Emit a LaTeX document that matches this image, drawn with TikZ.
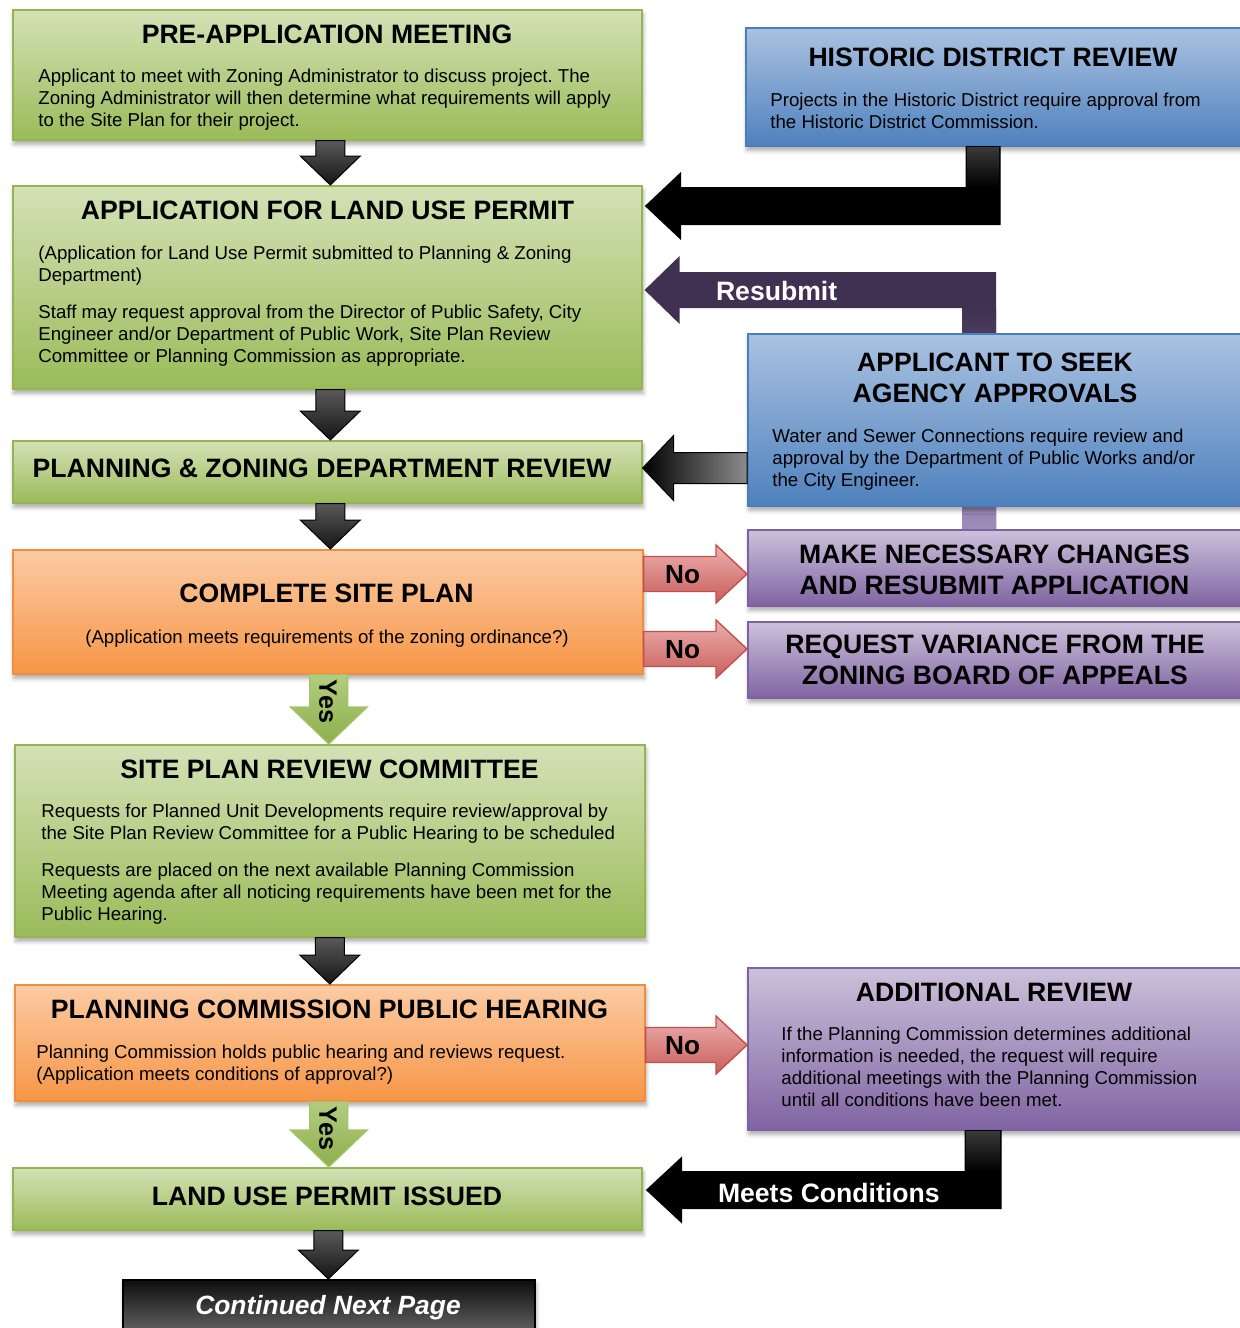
\documentclass[tikz,border=0pt]{standalone}
\usepackage{fontspec}
\setmainfont{Liberation Sans}
\usetikzlibrary{calc,shadows.blur}
\frenchspacing

\definecolor{grnT}{HTML}{D3E2B6}
\definecolor{grnB}{HTML}{9BBB59}
\definecolor{grnL}{HTML}{94B652}
\definecolor{orgT}{HTML}{FBCBA4}
\definecolor{orgB}{HTML}{F79646}
\definecolor{orgL}{HTML}{F28D3E}
\definecolor{bluT}{HTML}{AAC2E1}
\definecolor{bluB}{HTML}{4F81BD}
\definecolor{bluL}{HTML}{4A7EBB}
\definecolor{purT}{HTML}{CCC1DB}
\definecolor{purB}{HTML}{8064A2}
\definecolor{purL}{HTML}{7D61A0}
\definecolor{redT}{HTML}{EBB0AE}
\definecolor{redB}{HTML}{C95E5A}
\definecolor{redL}{HTML}{C0504D}
\definecolor{yesT}{HTML}{B2CD80}
\definecolor{yesB}{HTML}{8DAF4C}
\definecolor{yesL}{HTML}{A6C36C}
\definecolor{resub}{HTML}{403152}
\definecolor{resubLt}{HTML}{A08CBB}

\pgfdeclarelayer{back}
\pgfsetlayers{back,main}

\newcommand\leftlines[1]{\begin{tabular}[t]{@{}l@{}}#1\end{tabular}}
\newcommand\ctrlines[1]{\begin{tabular}[t]{@{}c@{}}#1\end{tabular}}

% straight block arrows: style, start, tip, shaft half width, head half width, head length
\newcommand\dnarrow[6]{\path[#1] let \p1=(#2), \p2=(#3) in
  (\x1-#4,\y1) -- (\x1+#4,\y1) -- (\x1+#4,\y2+#6) -- (\x1+#5,\y2+#6) -- (\x1,\y2)
  -- (\x1-#5,\y2+#6) -- (\x1-#4,\y2+#6) -- cycle;}
\newcommand\rtarrow[6]{\path[#1] let \p1=(#2), \p2=(#3) in
  (\x1,\y1+#4) -- (\x2-#6,\y1+#4) -- (\x2-#6,\y1+#5) -- (\x2,\y1)
  -- (\x2-#6,\y1-#5) -- (\x2-#6,\y1-#4) -- (\x1,\y1-#4) -- cycle;}
\newcommand\lfarrow[6]{\path[#1] let \p1=(#2), \p2=(#3) in
  (\x1,\y1+#4) -- (\x2+#6,\y1+#4) -- (\x2+#6,\y1+#5) -- (\x2,\y1)
  -- (\x2+#6,\y1-#5) -- (\x2+#6,\y1-#4) -- (\x1,\y1-#4) -- cycle;}

\tikzset{
  sz/.style 2 args={minimum width=#1*0.5pt, minimum height=#2*0.5pt},
  box/.style={rectangle, anchor=north west, inner sep=0pt, line width=0.8pt,
    blur shadow={shadow xshift=0.6pt, shadow yshift=-2.2pt,
      shadow blur radius=2.2pt, shadow opacity=35}},
  greenbox/.style={box, draw=grnL, top color=grnT, bottom color=grnB},
  orangebox/.style={box, draw=orgL, top color=orgT, bottom color=orgB},
  bluebox/.style={box, draw=bluL, top color=bluT, bottom color=bluB},
  purplebox/.style={box, draw=purL, top color=purT, bottom color=purB},
  darkbox/.style={box, draw=black, top color=black!95, bottom color=black!50},
  ttl/.style={anchor=base, inner sep=0pt, font=\fontsize{13.3}{15.5}\selectfont\bfseries},
  txt/.style={anchor=base west, inner sep=0pt, font=\fontsize{9.33}{11}\selectfont},
  lbl/.style={anchor=base, inner sep=0pt, font=\fontsize{13.1}{15}\selectfont\bfseries},
  wlbl/.style={anchor=base west, inner sep=0pt, text=white, font=\bfseries},
  darkarrow/.style={draw=black, line width=0.5pt, top color=black!65, bottom color=black!92},
  yesarrow/.style={draw=yesL, line width=0.6pt, top color=yesT, bottom color=yesB},
  noarrow/.style={draw=redL, line width=0.7pt, top color=redT, bottom color=redB},
}

\begin{document}
\begin{tikzpicture}[x=0.5pt, y=-0.5pt]
\useasboundingbox (0,0) rectangle (1240,1328);
\clip (0,0) rectangle (1240,1328);

% ---------- main column ----------
\node[greenbox, sz={629}{130}] (b1) at (12,9) {};
\node[ttl] at ($(b1.north west)+(315,34.5)$) {PRE-APPLICATION MEETING};
\node[txt] at ($(b1.north west)+(26,73)$) {\leftlines{Applicant to meet with Zoning Administrator to discuss project. The\\Zoning Administrator will then determine what requirements will apply\\to the Site Plan for their project.}};

\node[greenbox, sz={629}{203}] (b2) at (12,185) {};
\node[ttl] at ($(b2.north west)+(315.5,34.5)$) {APPLICATION FOR LAND USE PERMIT};
\node[txt] at ($(b2.north west)+(26,74)$) {\leftlines{(Application for Land Use Permit submitted to Planning \& Zoning\\Department)}};
\node[txt] at ($(b2.north west)+(26,133)$) {\leftlines{Staff may request approval from the Director of Public Safety, City\\Engineer and/or Department of Public Work, Site Plan Review\\Committee or Planning Commission as appropriate.}};

\node[greenbox, sz={629}{62}] (b3) at (12,440) {};
\node[ttl] at ($(b3.north west)+(310,37.5)$) {PLANNING \& ZONING DEPARTMENT REVIEW};

\node[orangebox, sz={630}{124}] (b4) at (12,549) {};
\node[ttl] at ($(b4.north west)+(314.5,53.5)$) {COMPLETE SITE PLAN};
\node[txt, anchor=base] at ($(b4.north west)+(315,94)$) {(Application meets requirements of the zoning ordinance?)};

\node[greenbox, sz={630}{192}] (b5) at (14,744) {};
\node[ttl] at ($(b5.north west)+(315.5,34.5)$) {SITE PLAN REVIEW COMMITTEE};
\node[txt] at ($(b5.north west)+(27,73)$) {\leftlines{Requests for Planned Unit Developments require review/approval by\\the Site Plan Review Committee for a Public Hearing to be scheduled}};
\node[txt] at ($(b5.north west)+(27,132)$) {\leftlines{Requests are placed on the next available Planning Commission\\Meeting agenda after all noticing requirements have been met for the\\Public Hearing.}};

\node[orangebox, sz={630}{116}] (b6) at (14,984) {};
\node[ttl] at ($(b6.north west)+(315.5,34.5)$) {PLANNING COMMISSION PUBLIC HEARING};
\node[txt] at ($(b6.north west)+(22,74)$) {\leftlines{Planning Commission holds public hearing and reviews request.\\(Application meets conditions of approval?)}};

\node[greenbox, sz={629}{62}] (b7) at (12,1167) {};
\node[ttl] at ($(b7.north west)+(315,38.5)$) {LAND USE PERMIT ISSUED};

\node[darkbox, sz={412}{70}] (b8) at (122,1279) {};
\node[ttl, text=white, font=\fontsize{13.2}{15}\selectfont\bfseries\itshape] at ($(b8.north west)+(206,35.5)$) {Continued Next Page};

% ---------- right column ----------
\node[bluebox, sz={502}{118}] (hist) at (745,27) {};
\node[ttl] at ($(hist.north west)+(248,39.5)$) {HISTORIC DISTRICT REVIEW};
\node[txt] at ($(hist.north west)+(25,79)$) {\leftlines{Projects in the Historic District require approval from\\the Historic District Commission.}};

\node[bluebox, sz={500}{172}] (agency) at (747,333) {};
\node[ttl] at ($(agency.north west)+(248,38.5)$) {\ctrlines{APPLICANT TO SEEK\\AGENCY APPROVALS}};
\node[txt] at ($(agency.north west)+(25,109)$) {\leftlines{Water and Sewer Connections require review and\\approval by the Department of Public Works and/or\\the City Engineer.}};

\node[purplebox, sz={500}{76}] (make) at (747,529) {};
\node[ttl] at ($(make.north west)+(247.5,34.5)$) {\ctrlines{MAKE NECESSARY CHANGES\\AND RESUBMIT APPLICATION}};

\node[purplebox, sz={500}{76}] (var) at (747,621) {};
\node[ttl] at ($(var.north west)+(248,32.5)$) {\ctrlines{REQUEST VARIANCE FROM THE\\ZONING BOARD OF APPEALS}};

\node[purplebox, sz={500}{162}] (addl) at (747,967) {};
\node[ttl] at ($(addl.north west)+(247,34.5)$) {ADDITIONAL REVIEW};
\node[txt] at ($(addl.north west)+(34,73)$) {\leftlines{If the Planning Commission determines additional\\information is needed, the request will require\\additional meetings with the Planning Commission\\until all conditions have been met.}};

% ---------- resubmit connector (runs behind the agency box) ----------
\begin{pgfonlayer}{back}
\fill[resub] let \p1=($(make.north west)+(215,0)$), \p2=($(b2.north east)+(2,105)$) in
  (\x1,\y1) -- (\x1+17pt,\y1) -- (\x1+17pt,\y2+9pt) -- (\x2+17.5pt,\y2+9pt)
  -- (\x2+17.5pt,\y2+17pt) -- (\x2,\y2) -- (\x2+17.5pt,\y2-17pt)
  -- (\x2+17.5pt,\y2-9pt) -- (\x1,\y2-9pt) -- cycle;
\shade[top color=resub, bottom color=resubLt] let \p1=($(make.north west)+(215,0)$), \p2=($(b2.north east)+(2,105)$) in
  (\x1,\y1) rectangle (\x1+17pt,\y2-9pt);
\end{pgfonlayer}
\node[wlbl, font=\fontsize{13.3}{15}\selectfont\bfseries] at ($(b2.north east)+(73,115)$) {Resubmit};

% ---------- historic district connector ----------
\path[fill=black, draw=black, line width=0.5pt] let \p1=($(hist.south west)+(221,0)$), \p2=($(b2.north east)+(3,21)$) in
  (\x1,\y1) -- (\x1+17pt,\y1) -- (\x1+17pt,\y2-9.25pt) -- (\x2+17.5pt,\y2-9.25pt)
  -- (\x2+17.5pt,\y2-16.5pt) -- (\x2,\y2) -- (\x2+17.5pt,\y2+16.5pt)
  -- (\x2+17.5pt,\y2+9.25pt) -- (\x1,\y2+9.25pt) -- cycle;
\shade[top color=black!78, bottom color=black] let \p1=($(hist.south west)+(221,0)$), \p2=($(b2.north east)+(3,21)$) in
  (\x1+0.4pt,\y1-0.4pt) rectangle (\x1+16.6pt,\y2+9.25pt);

% ---------- agency to review connector ----------
\lfarrow{draw=black, line width=0.5pt, left color=black, right color=black!45}{$(agency.north west)+(0,135)$}{b3.east}{7.75pt}{16.25pt}{15.5pt}

% ---------- additional review connector ----------
\path[fill=black, draw=black, line width=0.5pt] let \p1=($(addl.south west)+(218,0)$), \p2=($(b7.north east)+(4,23)$) in
  (\x1,\y1) -- (\x1+18pt,\y1) -- (\x1+18pt,\y2-9.25pt) -- (\x2+17.5pt,\y2-9.25pt)
  -- (\x2+17.5pt,\y2-16.25pt) -- (\x2,\y2) -- (\x2+17.5pt,\y2+16.25pt)
  -- (\x2+17.5pt,\y2+9.25pt) -- (\x1,\y2+9.25pt) -- cycle;
\shade[top color=black!78, bottom color=black] let \p1=($(addl.south west)+(218,0)$), \p2=($(b7.north east)+(4,23)$) in
  (\x1+0.4pt,\y1-0.4pt) rectangle (\x1+17.6pt,\y2+9.25pt);
\node[wlbl, font=\fontsize{13.3}{15}\selectfont\bfseries] at ($(b7.north east)+(75,35)$) {Meets Conditions};

% ---------- downward flow ----------
\dnarrow{darkarrow}{$(b1.south)+(3,0)$}{b2.north}{7.25pt}{15pt}{14.5pt}
\dnarrow{darkarrow}{$(b2.south)+(3,0)$}{b3.north}{7.25pt}{15pt}{14.5pt}
\dnarrow{darkarrow}{$(b3.south)+(3,0)$}{b4.north}{7.25pt}{15pt}{14.5pt}
\dnarrow{darkarrow}{b5.south}{b6.north}{7.25pt}{15pt}{14.5pt}
\dnarrow{darkarrow}{$(b7.south)+(1,0)$}{b8.north}{7.25pt}{15pt}{14.5pt}

\dnarrow{yesarrow}{$(b4.south)+(1,0)$}{b5.north}{9.5pt}{19.25pt}{18.5pt}
\node[lbl, anchor=center, rotate=-90, font=\fontsize{12.6}{14}\selectfont\bfseries] at ($(b4.south)+(0,27)$) {Yes};
\dnarrow{yesarrow}{$(b6.south)+(-1,0)$}{b7.north}{9.5pt}{19.25pt}{18.5pt}
\node[lbl, anchor=center, rotate=-90, font=\fontsize{12.6}{14}\selectfont\bfseries] at ($(b6.south)+(-2,27)$) {Yes};

% ---------- "No" branches ----------
\rtarrow{noarrow}{$(b4.north east)+(0,25)$}{make.west}{8.75pt}{14.5pt}{15.5pt}
\node[lbl] at ($(b4.north east)+(39,34)$) {No};
\rtarrow{noarrow}{$(b4.north east)+(0,100)$}{var.west}{8.75pt}{14.5pt}{15.5pt}
\node[lbl] at ($(b4.north east)+(39,109)$) {No};
\rtarrow{noarrow}{$(b6.north east)+(0,61)$}{addl.west}{8.75pt}{14.5pt}{15.5pt}
\node[lbl] at ($(b6.north east)+(37,70)$) {No};
\end{tikzpicture}
\end{document}
